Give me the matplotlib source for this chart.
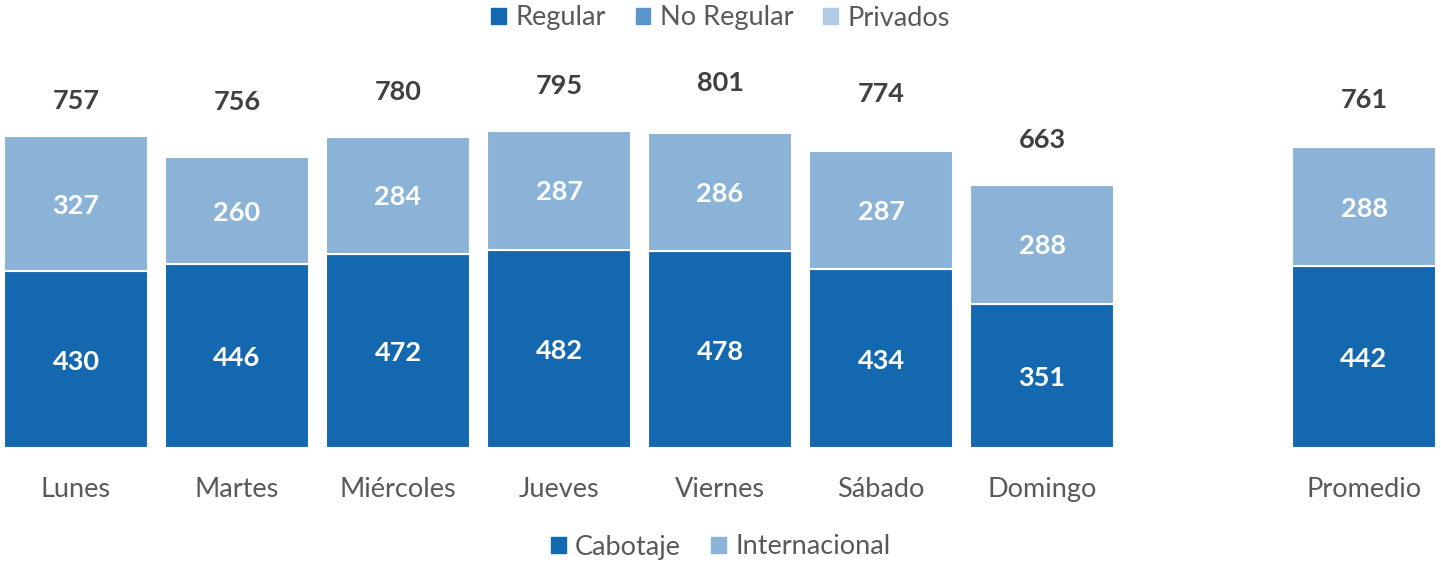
import matplotlib.pyplot as plt
from matplotlib.patches import Patch

# datos
dias = ["Lunes", "Martes", "Miércoles", "Jueves", "Viernes", "Sábado", "Domingo", "Promedio"]
posiciones = [0, 1, 2, 3, 4, 5, 6, 8]
cabotaje = [430, 446, 472, 482, 478, 434, 351, 442]
internacional = [327, 260, 284, 287, 286, 287, 288, 288]
totales = [757, 756, 780, 795, 801, 774, 663, 761]

c_oscuro = "#1468B0"
c_medio = "#5B96CB"
c_claro = "#8AB3D7"
c_privados = "#AFCBE6"

plt.rcParams["font.family"] = ["Lato", "DejaVu Sans"]

fig = plt.figure(figsize=(14.41, 5.63), dpi=100)
ax = fig.add_axes([0, 0.204, 1, 0.7318])

ax.bar(posiciones, cabotaje, width=0.895, color=c_oscuro, edgecolor="white", linewidth=1.5)
ax.bar(posiciones, internacional, width=0.895, bottom=cabotaje, color=c_claro,
       edgecolor="white", linewidth=1.5)

for x, c, i, t in zip(posiciones, cabotaje, internacional, totales):
    ax.annotate(str(c), (x, c / 2), xytext=(0, -2), textcoords="offset pixels",
                ha="center", va="center", color="white", fontsize=19.5, fontweight="bold")
    ax.annotate(str(i), (x, c + i / 2), xytext=(0, -2), textcoords="offset pixels",
                ha="center", va="center", color="white", fontsize=19.5, fontweight="bold")
    ax.annotate(str(t), (x, t), xytext=(0, 35), textcoords="offset pixels",
                ha="center", va="center", color="#404040", fontsize=19.5, fontweight="bold")

ax.set_xlim(-0.472, 8.478)
ax.set_ylim(0, 1000)
ax.set_xticks(posiciones, dias)
ax.tick_params(axis="x", length=0, pad=21, labelsize=19.5, labelcolor="#595959")
ax.set_yticks([])
for s in ax.spines.values():
    s.set_visible(False)

# leyendas
arriba = [Patch(color=c_oscuro, label="Regular"),
          Patch(color=c_medio, label="No Regular"),
          Patch(color=c_privados, label="Privados")]
fig.legend(handles=arriba, loc="center", bbox_to_anchor=(0.5, 1 - 18 / 563), ncol=3,
           frameon=False, fontsize=19.5, handlelength=0.55, handleheight=0.55,
           handletextpad=0.35, columnspacing=1.1, labelcolor="#595959")
abajo = [Patch(color=c_oscuro, label="Cabotaje"),
         Patch(color=c_claro, label="Internacional")]
fig.legend(handles=abajo, loc="center", bbox_to_anchor=(0.5, 1 - 547 / 563), ncol=2,
           frameon=False, fontsize=19.5, handlelength=0.55, handleheight=0.55,
           handletextpad=0.35, columnspacing=1.1, labelcolor="#595959")

fig.savefig("out.png", dpi=100)
